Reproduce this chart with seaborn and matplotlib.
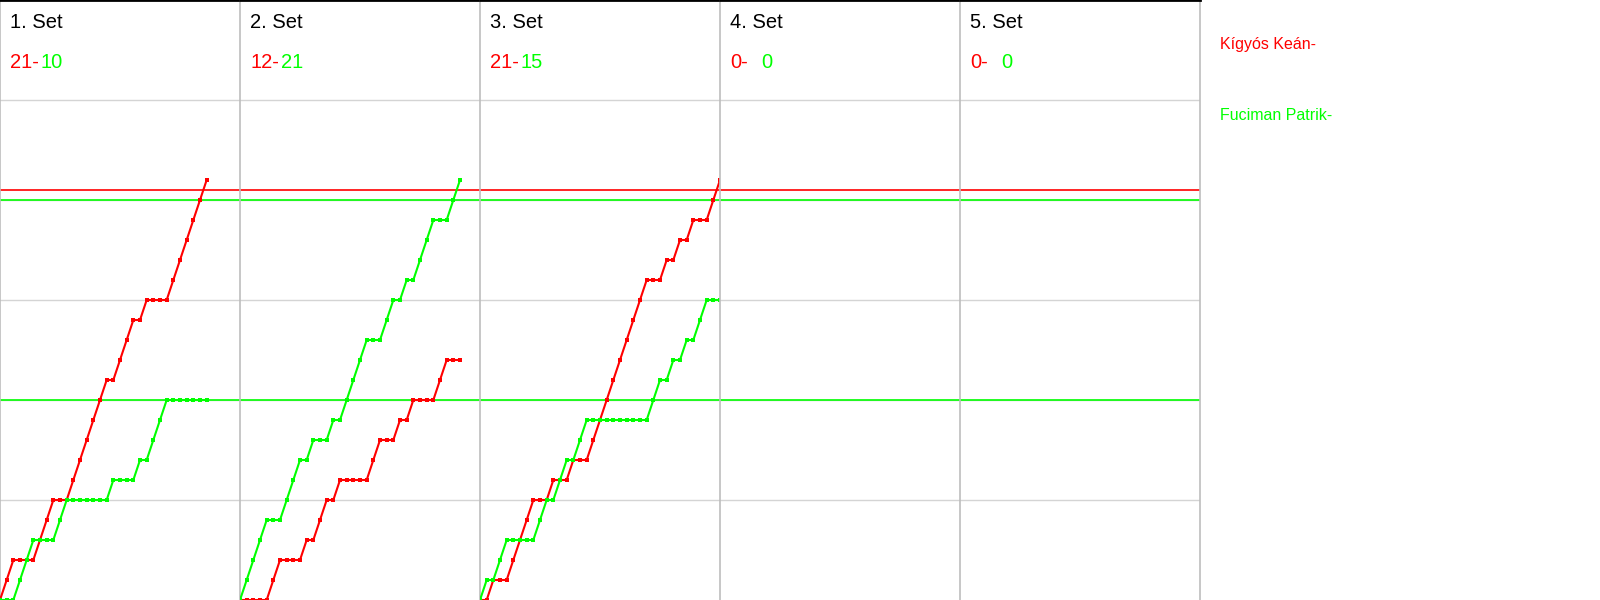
import numpy as np
import pandas as pd
import matplotlib
matplotlib.use('Agg')
import matplotlib.pyplot as plt
import seaborn as sns

# players (red / green)
players = ['Kígyós Keán', 'Fuciman Patrik']
colors = ['#ff0000', '#00ff00']

# cumulative score after each rally, per set
set1_red = [0, 1, 2, 2, 2, 2, 3, 4, 5, 5, 5, 6, 7, 8, 9, 10, 11, 11, 12, 13, 14, 14, 15, 15, 15, 15,
            16, 17, 18, 19, 20, 21]
set1_green = [0, 0, 0, 1, 2, 3, 3, 3, 3, 4, 5, 5, 5, 5, 5, 5, 5, 6, 6, 6, 6, 7, 7, 8, 9, 10,
              10, 10, 10, 10, 10, 10]
set2_red = [0, 0, 0, 0, 0, 1, 2, 2, 2, 2, 3, 3, 4, 5, 5, 6, 6, 6, 6, 6, 7, 8, 8, 8, 9, 9, 10,
            10, 10, 10, 11, 12, 12, 12]
set2_green = [0, 1, 2, 3, 4, 4, 4, 5, 6, 7, 7, 8, 8, 8, 9, 9, 10, 11, 12, 13, 13, 13, 14, 15, 15,
              16, 16, 17, 18, 19, 19, 19, 20, 21]
set3_red = [0, 0, 1, 1, 1, 2, 3, 4, 5, 5, 5, 6, 6, 6, 7, 7, 7, 8, 9, 10, 11, 12, 13, 14, 15, 16,
            16, 16, 17, 17, 18, 18, 19, 19, 19, 20, 21]
set3_green = [0, 1, 1, 2, 3, 3, 3, 3, 3, 4, 5, 5, 6, 7, 7, 8, 9, 9, 9, 9, 9, 9, 9, 9, 9, 9,
              10, 11, 11, 12, 12, 13, 13, 14, 15, 15, 15]

set_titles = ['1. Set', '2. Set', '3. Set', '4. Set', '5. Set']
red_scores = ['21-', '12-', '21-', '0-', '0-']
green_scores = ['10', '21', '15', '0', '0']

sets = [(set1_red, set1_green), (set2_red, set2_green), (set3_red, set3_green), ([], []), ([], [])]

sns.set_theme(style='white')
plt.rcParams['font.family'] = ['Liberation Sans', 'DejaVu Sans']

W, H = 1600, 600
fig = plt.figure(figsize=(16, 6), dpi=100)

for i, (red, green) in enumerate(sets):
    ax = fig.add_axes([i * 240 / W, 0, 240 / W, 1])
    rows = []
    for name, vals in zip(players, [red, green]):
        for r, v in enumerate(vals):
            rows.append({'rally': r, 'score': v, 'player': name})
    if rows:
        df = pd.DataFrame(rows)
        sns.lineplot(data=df, x='rally', y='score', hue='player', palette=colors,
                     hue_order=players, ax=ax, legend=False, lw=1.5,
                     marker='s', markersize=2.2, markeredgewidth=0, zorder=3)
    ax.set_xlim(0, 36)
    ax.set_ylim(0, 30)
    ax.set_yticks([5, 10, 15, 20, 25])
    ax.set_xticks([])
    ax.yaxis.grid(True, color='#d4d4d4', lw=1)
    ax.tick_params(left=False, labelleft=False, bottom=False, labelbottom=False)
    ax.set_xlabel('')
    ax.set_ylabel('')
    ax.axhline(20.5, color=colors[0], lw=1.2, zorder=2)
    ax.axhline(20, color=colors[1], lw=1.2, zorder=2)
    ax.axhline(10, color=colors[1], lw=1.2, zorder=2)
    for s in ['left', 'right']:
        ax.spines[s].set_color('#bdbdbd')
        ax.spines[s].set_linewidth(1.2)
    ax.spines['right'].set_visible(i == 4)
    ax.spines['top'].set_color('black')
    ax.spines['top'].set_linewidth(2)
    ax.spines['bottom'].set_visible(False)

    x0 = i * 240
    fig.text((x0 + 10) / W, 1 - 23 / H, set_titles[i], fontsize=14.5, color='black', va='center')
    fig.text((x0 + 10) / W, 1 - 63 / H, red_scores[i], fontsize=14.5, color=colors[0], va='center')
    fig.text((x0 + 41) / W, 1 - 63 / H, green_scores[i], fontsize=14.5, color=colors[1], va='center')

fig.text(1220 / W, 1 - 44 / H, players[0] + '-', fontsize=11.5, color=colors[0], va='center')
fig.text(1220 / W, 1 - 115 / H, players[1] + '-', fontsize=11.5, color=colors[1], va='center')

fig.savefig('out.png', dpi=100, facecolor='white')
